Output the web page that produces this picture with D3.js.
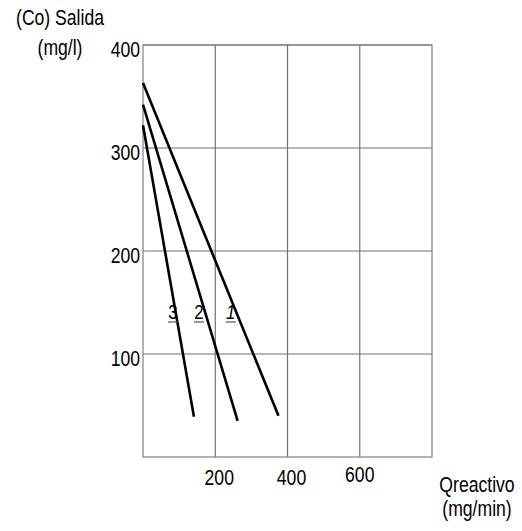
<!DOCTYPE html>
<html>
<head>
<meta charset="utf-8">
<script src="https://cdn.jsdelivr.net/npm/d3@7"></script>
<style>
  body { margin: 0; background: #fff; }
  text { font-family: "Liberation Sans", Arial, sans-serif; fill: #000; }
</style>
</head>
<body>
<div id="chart"></div>
<script>
// tick values and series
var xTicks = [200, 400, 600],
    yTicks = [100, 200, 300, 400];

var lineNames = ["1", "2", "3"];
var line1 = [{q: 0, co: 363}, {q: 375, co: 40}],
    line2 = [{q: 0, co: 342}, {q: 262, co: 35}],
    line3 = [{q: 0, co: 322}, {q: 141, co: 39}];
// where each number label sits, in data units
var labelPos = [{q: 243, co: 134}, {q: 155, co: 134}, {q: 83, co: 134}];

var margin = {top: 45, right: 90, bottom: 74, left: 143};

var svg = d3.select("#chart").append("svg")
    .attr("width", 522)
    .attr("height", 531);

var g = svg.append("g")
    .attr("transform", "translate(" + margin.left + "," + margin.top + ")");

var x = d3.scaleLinear().domain([0, 800]).range([0, 289]);
var y = d3.scaleLinear().domain([0, 400]).range([412, 0]);

// narrow text: regular font squeezed sideways
var squeeze = 0.8;
function label(parent, tx, ty, str, anchor, size) {
    return parent.append("text")
        .attr("transform", "translate(" + tx + "," + ty + ") scale(" + squeeze + ",1)")
        .attr("text-anchor", anchor)
        .style("font-size", (size || 22) + "px")
        .text(str);
}

// grid
g.selectAll(".vgrid")
    .data(xTicks)
  .enter().append("line")
    .attr("x1", function(d) { return x(d); })
    .attr("x2", function(d) { return x(d); })
    .attr("y1", y(400))
    .attr("y2", y(0))
    .style("stroke", "#707070")
    .style("stroke-width", 1.2);

g.selectAll(".hgrid")
    .data(yTicks)
  .enter().append("line")
    .attr("x1", x(0))
    .attr("x2", x(800))
    .attr("y1", function(d) { return y(d); })
    .attr("y2", function(d) { return y(d); })
    .style("stroke", "#707070")
    .style("stroke-width", 1.2);

// frame
g.append("rect")
    .attr("x", x(0))
    .attr("y", y(400))
    .attr("width", x(800) - x(0))
    .attr("height", y(0) - y(400))
    .style("fill", "none")
    .style("stroke", "#808080")
    .style("stroke-width", 1.2);

// tick labels
yTicks.forEach(function(d) {
    label(g, -3, y(d) + 12, d, "end");
});

xTicks.forEach(function(d) {
    label(g, x(d) + (d === 600 ? 0 : 4), y(0) + (d === 600 ? 25 : 28), d, "middle");
});

// the lines
var valueline = d3.line()
    .x(function(d) { return x(d.q); })
    .y(function(d) { return y(d.co); });

[line1, line2, line3].forEach(function(data) {
    g.append("path")
        .datum(data)
        .attr("d", valueline)
        .style("fill", "none")
        .style("stroke", "#000")
        .style("stroke-width", 2.6);
});

// underlined numbers next to the lines
labelPos.forEach(function(p, i) {
    label(g, x(p.q), y(p.co), lineNames[i], "middle", 21)
        .style("font-style", i === 0 ? "italic" : "normal");
    g.append("line")
        .attr("x1", x(p.q) - 5)
        .attr("x2", x(p.q) + 5)
        .attr("y1", y(p.co) + 3)
        .attr("y2", y(p.co) + 3)
        .style("stroke", "#555")
        .style("stroke-width", 1.2);
});

// axis titles
label(svg, 60, 25, "(Co) Salida", "middle");
label(svg, 60, 55, "(mg/l)", "middle");
label(svg, 477, 492, "Qreactivo", "middle");
label(svg, 477, 516, "(mg/min)", "middle");
</script>
</body>
</html>
